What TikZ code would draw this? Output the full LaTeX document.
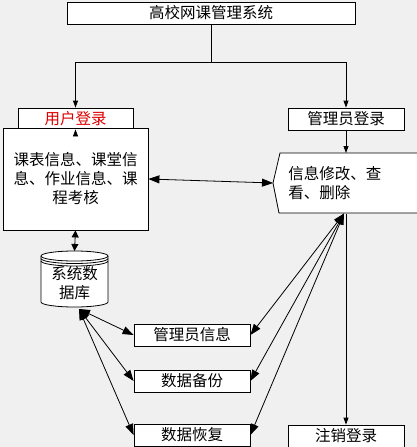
\documentclass[tikz,border=0pt]{standalone}
\usepackage{fontspec}
\setmainfont{Noto Sans CJK SC}
\usetikzlibrary{arrows.meta,positioning}

\definecolor{bgc}{RGB}{240,240,240}
\definecolor{lred}{RGB}{220,0,0}
\tikzset{
  txt/.style={inner sep=0pt,font=\fontsize{15.5}{19}\selectfont},
  box/.style={txt,draw,fill=white},
  arr/.style={-{Triangle[length=7pt,width=5pt]}},
  marr/.style={{Triangle[length=7pt,width=7pt]}-{Triangle[length=7pt,width=7pt]}},
  darr/.style={{Triangle[length=11pt,width=8pt]}-{Triangle[length=11pt,width=8pt]}}
}

\begin{document}
\begin{tikzpicture}[x=1pt,y=-1pt,line width=0.8pt]
\path[use as bounding box,fill=bgc] (0,0) rectangle (417,447);

\node[box,minimum width=288,minimum height=22] (title) at (211,13) {高校网课管理系统};
\node[box,minimum width=115,minimum height=21,text=lred] (ulogin) at (75.5,118.5) {用户登录};
\node[box,minimum width=145,minimum height=102,align=center] (info) at (75.5,179) {课表信息、课堂信\\息、作业信息、课\\程考核};
\node[box,minimum width=116,minimum height=22] (alogin) at (346,119) {管理员登录};

\fill[white] (280,153) -- (273,183) -- (279,213) -- (417,213) -- (417,153) -- cycle;
\draw (417,153) -- (280,153) -- (273,183) coordinate (tip) -- (279,213) -- (417,213);
\node[txt,align=left,anchor=west] (edit) at (288,183) {信息修改、查\\看、删除};

\filldraw[fill=white] (41,256) -- (41,302) arc[start angle=180,end angle=0,x radius=33.5,y radius=5] -- (108,256) arc[start angle=0,end angle=-180,x radius=33.5,y radius=5] -- cycle;
\foreach \s in {0,2.5,5}
  \draw (41,256+\s) arc[start angle=180,end angle=0,x radius=33.5,y radius=5];
\node[txt,minimum width=67,minimum height=56,align=center] (db) at (74.5,283) {系统数\\据库};

\foreach \nm/\y/\txt in {ainfo/335/管理员信息,backup/381/数据备份,restore/435/数据恢复}
  \node[box,minimum width=116,minimum height=22] (\nm) at (192,\y) {\txt};
\node[box,minimum width=116,minimum height=22] (logout) at (346,436) {注销登录};

\coordinate (split) at (211,62);
\draw (title.south) -- (split);
\draw[arr] (split) -| (ulogin.north);
\draw[arr] (split) -| (alogin.north);
\draw[arr] ([yshift=-6pt]info.north) -- (ulogin.south);
\draw[darr] (info.east) -- (tip);
\draw[marr] (info.south) -- (74.5,251);
\draw[arr] (alogin.south) -- (346,153);
\coordinate (eb) at (344,213.5);
\coordinate (dbb) at (79,309);
\foreach \nm in {ainfo,backup,restore} {
  \draw[darr] (eb) -- (\nm.east);
  \draw[darr] (dbb) -- (\nm.west);
}
\draw[arr] (346,213.5) -- (logout.north);
\end{tikzpicture}
\end{document}
